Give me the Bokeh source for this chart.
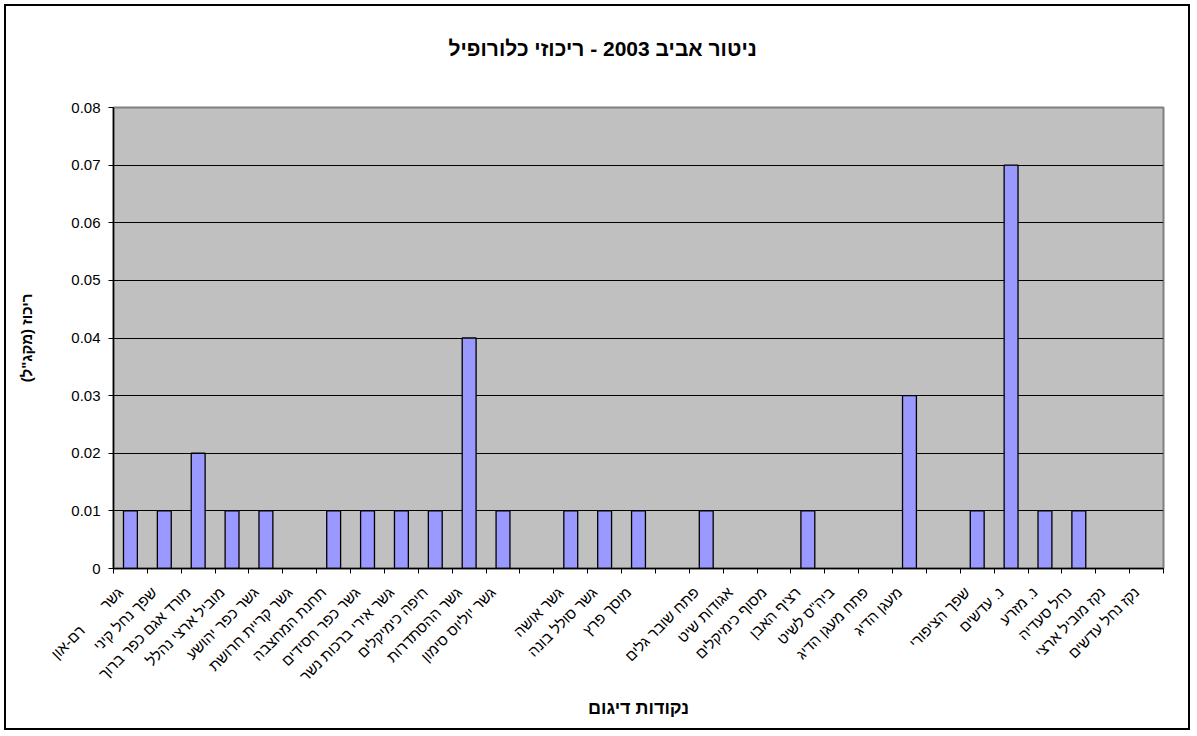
import math
from bokeh.plotting import figure
from bokeh.models import Range1d, FixedTicker, ColumnDataSource, Title
from bokeh.embed import file_html
from bokeh.resources import INLINE

RLM = "\u200f"
NB = "\u00a0"

# ---- data ----
sites = [
    "גשר" + NB * 7 + "רם-און",
    "שפך נחל קיני",
    "מורד אגם כפר ברוך",
    "מוביל ארצי נהלל",
    "גשר כפר יהושע",
    "גשר קריית חרושת",
    "תחנת המחצבה",
    "גשר כפר חסידים",
    "גשר אירי ברכות נשר",
    "חיפה כימיקלים",
    "גשר ההסתדרות",
    "גשר יוליוס סימון",
    "",
    "גשר אושה",
    "גשר סולל בונה",
    "מוסך פרץ",
    "",
    "פתח שובר גלים",
    "אגודות שיט",
    "מסוף כימיקלים",
    "רציף האבן",
    'ביה"ס לשיט',
    "פתח מעגן הדיג",
    "מעגן הדיג",
    "",
    "שפך הציפורי",
    "נ. עדשים",
    "נ. מזרע",
    "נחל סעדיה",
    "נקז מוביל ארצי",
    "נקז נחל עדשים",
]
chlorophyll = [
    0.01, 0.01, 0.02, 0.01, 0.01, None, 0.01, 0.01, 0.01, 0.01,
    0.04, 0.01, None, 0.01, 0.01, 0.01, None, 0.01, None, None,
    0.01, None, None, 0.03, None, 0.01, 0.07, 0.01, 0.01, None, None,
]
y_ticks = [0.0, 0.01, 0.02, 0.03, 0.04, 0.05, 0.06, 0.07, 0.08]
y_tick_labels = ["0", "0.01", "0.02", "0.03", "0.04", "0.05", "0.06", "0.07", "0.08"]
title_text = "ניטור אביב 2003 - ריכוזי כלורופיל"
x_title = "נקודות דיגום"
y_title = 'ריכוז (מקג"ל)'


def rtl(s):
    return RLM + s + RLM if s else s


positions = list(range(1, len(sites) + 1))
tops = [v if v is not None else float("nan") for v in chlorophyll]
src = ColumnDataSource(dict(x=positions, top=tops))

FONT = "Liberation Sans, Arial, sans-serif"
LABEL_SHIFT = 0.3  # rotated labels sit a little left of the category centre

p = figure(
    width=1186, height=726,
    x_range=Range1d(0.5, len(sites) + 0.5),
    y_range=Range1d(y_ticks[0], y_ticks[-1]),
    output_backend="svg", toolbar_location=None,
    min_border_left=107, min_border_top=101,
    min_border_right=29, min_border_bottom=164,
)
p.styles = {"margin-left": "4px", "margin-top": "4px",
            "border": "2px solid black"}

p.vbar(x="x", top="top", bottom=0, width=0.41, source=src,
       fill_color="#9999FF", line_color="black", line_width=1.3)

p.background_fill_color = "#C0C0C0"
p.border_fill_color = "white"
p.outline_line_color = "#808080"
p.outline_line_width = 2

# spacer between title and plot area
spacer = Title(text=" ", text_font_size="1px", standoff=40)
p.add_layout(spacer, "above")

# title
p.title.text = rtl(title_text)
p.title.align = "left"
p.title.text_font = FONT
p.title.text_font_size = "21px"
p.title.text_font_style = "bold"
p.title.text_color = "black"
p.title.standoff = 10
p.title.offset = 335

# x axis
xa = p.xaxis[0]
label_ticks = [x - LABEL_SHIFT for x in positions]
xa.ticker = FixedTicker(ticks=label_ticks, minor_ticks=[i + 0.5 for i in range(0, len(sites) + 1)])
xa.major_label_overrides = {t: rtl(s) for t, s in zip(label_ticks, sites)}
xa.major_tick_line_color = None
xa.minor_tick_line_color = "black"
xa.minor_tick_out = 5
xa.minor_tick_in = 0
xa.major_label_orientation = math.pi / 4
xa.major_label_standoff = 15
xa.major_label_text_font = FONT
xa.major_label_text_font_size = "15px"
xa.major_label_text_color = "black"
xa.axis_line_color = "black"
xa.axis_line_width = 1.5
xa.axis_label = rtl(x_title)
xa.axis_label_text_font = FONT
xa.axis_label_text_font_size = "18px"
xa.axis_label_text_font_style = "bold"
xa.axis_label_text_color = "black"
xa.axis_label_standoff = 4

# y axis
ya = p.yaxis[0]
ya.ticker = FixedTicker(ticks=y_ticks, minor_ticks=[])
ya.major_label_overrides = dict(zip(y_ticks, y_tick_labels))
ya.minor_tick_line_color = None
ya.major_tick_out = 5
ya.major_tick_in = 0
ya.major_tick_line_color = "black"
ya.major_label_standoff = 8
ya.major_label_text_font = FONT
ya.major_label_text_font_size = "15px"
ya.major_label_text_color = "black"
ya.axis_line_color = "black"
ya.axis_line_width = 1.5
ya.axis_label = rtl(y_title)
ya.axis_label_text_font = FONT
ya.axis_label_text_font_size = "15px"
ya.axis_label_text_font_style = "bold"
ya.axis_label_text_color = "black"
ya.axis_label_standoff = 33

p.xgrid.visible = False
p.ygrid.ticker = FixedTicker(ticks=y_ticks[1:-1])
p.ygrid.grid_line_color = "black"
p.ygrid.grid_line_width = 1

open("out.html", "w").write(file_html(p, INLINE))
